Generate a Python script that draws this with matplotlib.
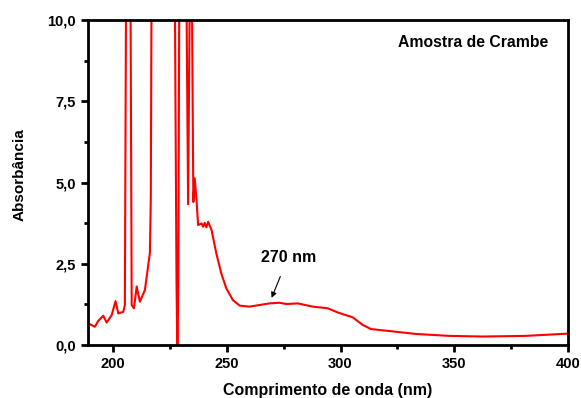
import numpy as np
import matplotlib.pyplot as plt
from matplotlib.ticker import MultipleLocator, FuncFormatter

plt.rcParams['font.family'] = ['Liberation Sans', 'DejaVu Sans']
plt.rcParams['font.weight'] = 'bold'

# espectro UV (nm, absorbância); valores > 10 saturados
wl = [189, 192, 193.5, 195.7, 197.2, 199.4, 201.1, 202.3, 204.5, 205.2, 205.7,
      207.7, 208.2, 209.2, 210.4, 211.8, 214, 216.2, 216.6, 216.9, 227.2, 227.9,
      228.3, 228.7, 229.1, 232.3, 233.0, 233.7, 234.7, 235.3, 235.9, 236.7, 237.4,
      238.9, 239.6, 240.3, 241, 241.8, 243.3, 245.4, 247.6, 249.8, 252.7, 255.7,
      260, 264.4, 268.8, 273.2, 276.2, 281.2, 287.8, 294.4, 298.8, 305.4, 309.7,
      313.4, 320, 333.1, 347.8, 362.4, 381.4, 400]
absorb = [0.67, 0.56, 0.74, 0.9, 0.69, 0.92, 1.35, 0.97, 1.02, 1.23, 10.5,
          10.5, 1.23, 1.13, 1.8, 1.33, 1.69, 2.83, 4.5, 10.5, 10.5, 2.0,
          -0.5, 2.0, 10.5, 10.5, 4.33, 10.5, 10.5, 4.4, 5.13, 4.46, 3.69,
          3.74, 3.64, 3.76, 3.62, 3.79, 3.54, 2.82, 2.2, 1.74, 1.38, 1.21,
          1.18, 1.23, 1.28, 1.3, 1.26, 1.28, 1.18, 1.13, 1.0, 0.85, 0.62,
          0.49, 0.44, 0.34, 0.28, 0.26, 0.28, 0.35]

fig = plt.figure(figsize=(5.81, 3.98), dpi=100)
ax = fig.add_axes([0.1515, 0.1332, 0.8261, 0.8165])
ax.plot(wl, absorb, color='red', lw=1.5)

ax.set_xlim(189, 400)
ax.set_ylim(0, 10)
ax.xaxis.set_major_locator(MultipleLocator(50))
ax.xaxis.set_minor_locator(MultipleLocator(25))
ax.yaxis.set_major_locator(MultipleLocator(2.5))
ax.yaxis.set_minor_locator(MultipleLocator(1.25))
ax.yaxis.set_major_formatter(FuncFormatter(lambda v, p: f"{v:.1f}".replace('.', ',')))

for s in ax.spines.values():
    s.set_linewidth(2)
ax.tick_params(which='major', direction='out', length=5, width=2, labelsize=10.5)
ax.tick_params(which='minor', direction='out', length=3, width=2)

ax.set_xlabel("Comprimento de onda (nm)", fontsize=11.5, fontweight='bold')
ax.set_ylabel("Absorbância", fontsize=11, fontweight='bold')
ax.xaxis.set_label_coords(0.5, -0.117)
ax.yaxis.set_label_coords(-0.127, 0.523)

ax.text(0.958, 0.932, "Amostra de Crambe", transform=ax.transAxes, ha='right',
        va='center', fontsize=11.3, fontweight='bold')
ax.annotate("270 nm", xy=(269.7, 1.45), xytext=(277, 2.7), ha='center', va='center',
            fontsize=11.5, fontweight='bold',
            arrowprops=dict(arrowstyle='-|>', color='black', lw=0.8,
                            mutation_scale=8, shrinkA=7, shrinkB=0))

fig.savefig("out.png", dpi=100)
